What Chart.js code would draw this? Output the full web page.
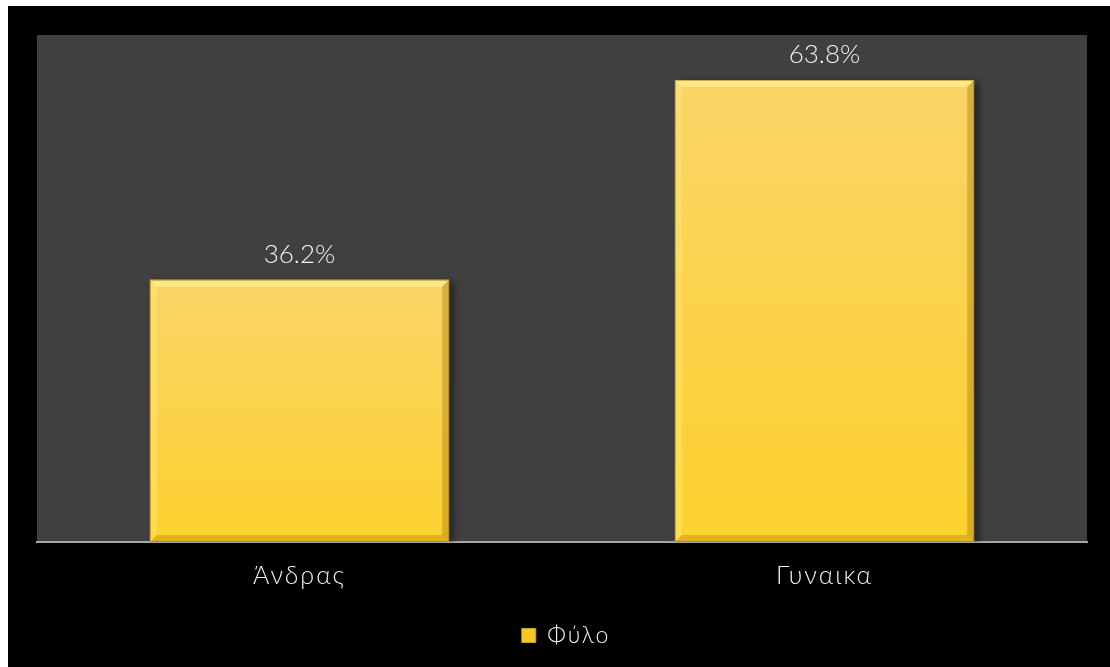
<!DOCTYPE html>
<html>
<head>
<meta charset="utf-8">
<script src="https://cdn.jsdelivr.net/npm/chart.js@4.4.0/dist/chart.umd.min.js"></script>
<style>
  html, body { margin: 0; padding: 0; background: #fff; }
  #wrap { position: absolute; left: 8px; top: 6px; width: 1102px; height: 661px; background: #000; }
</style>
</head>
<body>
<div id="wrap"><canvas id="genderChart" width="1102" height="661"></canvas></div>
<script>
// share of respondents by gender (%)
const categories = ['Άνδρας', 'Γυναικα'];
const seriesName = 'Φύλο';
const shares = [36.2, 63.8];
const yMin = 0;
const yMax = 70;

const FONT = 'Lato, "Open Sans", sans-serif';

// bar fill: pale gold at the top, deeper yellow at the base
function barFill(ctx) {
  const chart = ctx.chart;
  const y = chart.scales && chart.scales.y;
  if (!chart.chartArea || !y || ctx.type !== 'data') return '#fbd23c';
  const top = y.getPixelForValue(ctx.raw);
  const base = y.getPixelForValue(0);
  const g = chart.ctx.createLinearGradient(0, top, 0, base);
  g.addColorStop(0, '#f9d467');
  g.addColorStop(1, '#fdd12e');
  return g;
}

// dark plot panel behind the bars; wider letter spacing for axis and legend text
const panel = {
  id: 'panel',
  beforeDraw(chart) {
    const { ctx, chartArea: a } = chart;
    ctx.save();
    ctx.fillStyle = '#404040';
    ctx.fillRect(a.left, a.top, a.right - a.left, a.bottom - a.top);
    ctx.restore();
    ctx.letterSpacing = '2px';
  },
  afterDraw(chart) {
    chart.ctx.letterSpacing = '0px';
  }
};

// soft drop shadow to the right of each bar
const barShadow = {
  id: 'barShadow',
  beforeDatasetsDraw(chart) {
    const ctx = chart.ctx;
    ctx.save();
    ctx.shadowColor = 'rgba(0,0,0,0.55)';
    ctx.shadowBlur = 8;
    ctx.shadowOffsetX = 4;
    ctx.shadowOffsetY = 2;
  },
  afterDatasetsDraw(chart) {
    chart.ctx.restore();
  }
};

// bevelled edges and the value text over each bar
const bevel = {
  id: 'bevel',
  afterDatasetsDraw(chart) {
    const ctx = chart.ctx;
    const d = 7;
    chart.getDatasetMeta(0).data.forEach((bar, i) => {
      const l = bar.x - bar.width / 2, r = bar.x + bar.width / 2;
      const t = bar.y, b = bar.base;
      const quad = (pts, color) => {
        ctx.beginPath();
        ctx.moveTo(pts[0][0], pts[0][1]);
        pts.slice(1).forEach(p => ctx.lineTo(p[0], p[1]));
        ctx.closePath();
        ctx.fillStyle = color;
        ctx.fill();
      };
      ctx.save();
      quad([[l, t], [r, t], [r - d, t + d], [l + d, t + d]], 'rgba(255,240,150,0.75)');
      quad([[l, t], [l + d, t + d], [l + d, b - d], [l, b]], 'rgba(255,232,120,0.45)');
      quad([[r, t], [r, b], [r - d, b - d], [r - d, t + d]], 'rgba(150,110,0,0.35)');
      quad([[l, b], [l + d, b - d], [r - d, b - d], [r, b]], 'rgba(170,120,0,0.35)');
      ctx.strokeStyle = 'rgba(160,120,20,0.6)';
      ctx.lineWidth = 1;
      ctx.strokeRect(l + 0.5, t + 0.5, bar.width - 1, b - t - 1);
      ctx.letterSpacing = '0px';
      ctx.fillStyle = '#f2f2f2';
      ctx.font = '300 26px ' + FONT;
      ctx.textAlign = 'center';
      ctx.textBaseline = 'alphabetic';
      ctx.fillText(shares[i].toFixed(1) + '%', bar.x, t - 17);
      ctx.restore();
    });
  }
};

new Chart(document.getElementById('genderChart'), {
  type: 'bar',
  data: {
    labels: categories,
    datasets: [{
      label: seriesName,
      data: shares,
      backgroundColor: barFill,
      borderWidth: 0,
      categoryPercentage: 1,
      barPercentage: 0.57
    }]
  },
  options: {
    responsive: false,
    animation: false,
    layout: { padding: { left: 29, right: 23, top: 29, bottom: 10 } },
    scales: {
      y: { display: false, min: yMin, max: yMax },
      x: {
        grid: { display: false, drawTicks: false },
        border: { display: true, color: '#a6a6a6', width: 2 },
        ticks: { color: '#f2f2f2', font: { family: FONT, size: 25, weight: '300' }, padding: 19 }
      }
    },
    plugins: {
      tooltip: { enabled: false },
      legend: {
        position: 'bottom',
        labels: {
          color: '#f2f2f2',
          font: { family: FONT, size: 23, weight: '300' },
          boxWidth: 14,
          boxHeight: 14,
          padding: 14,
          generateLabels(chart) {
            const items = Chart.defaults.plugins.legend.labels.generateLabels(chart);
            items.forEach(it => { it.fillStyle = '#f3c824'; it.strokeStyle = '#c9a21c'; it.lineWidth = 1; });
            return items;
          }
        }
      }
    }
  },
  plugins: [panel, barShadow, bevel]
});
</script>
</body>
</html>
